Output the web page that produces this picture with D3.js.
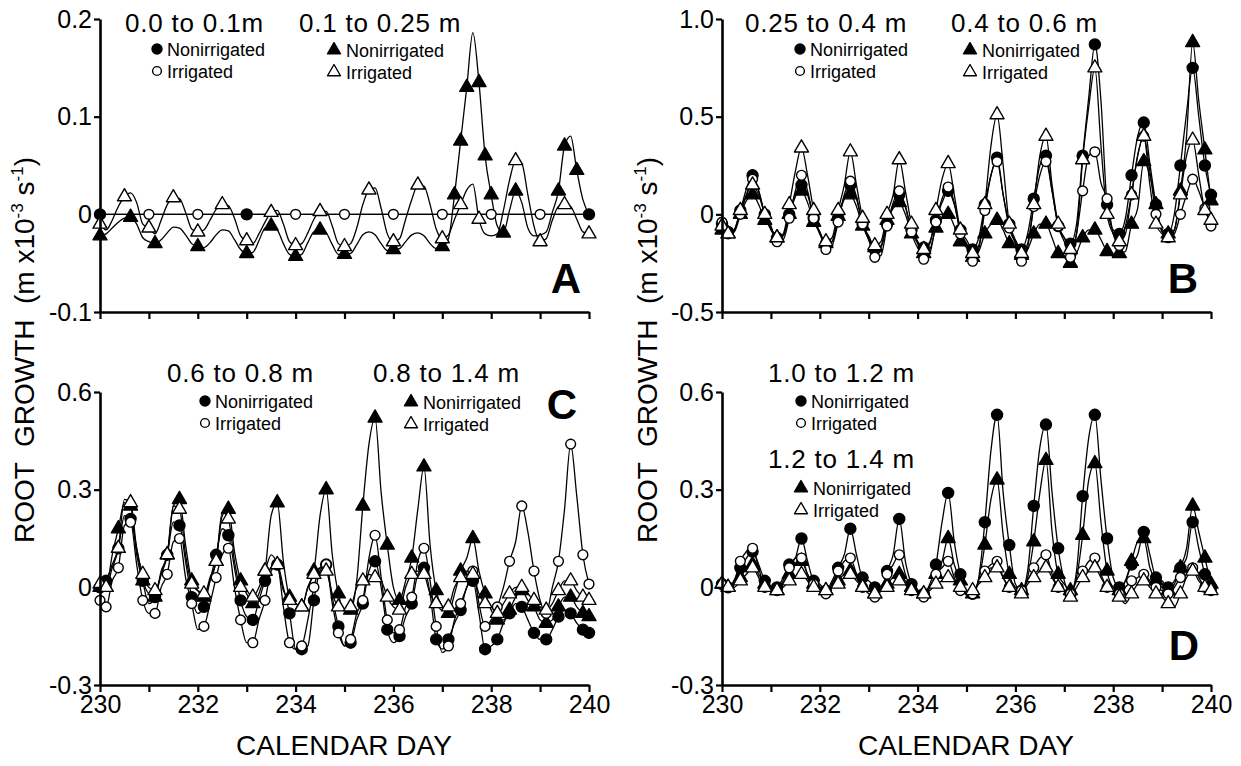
<!DOCTYPE html>
<html>
<head>
<meta charset="utf-8">
<script src="https://cdn.jsdelivr.net/npm/d3@7"></script>
<style>
body { margin: 0; background: #fff; }
svg text { font-family: "Liberation Sans", Arial, Helvetica, sans-serif; fill: #000; }
</style>
</head>
<body>
<svg id="chart" width="1241" height="766"></svg>
<script>
// values every 0.125 day from day 230 to day 240 (81 values)
const days = [230, 240]
const dayTicks = [230, 231, 232, 233, 234, 235, 236, 237, 238, 239, 240]
const dayLabels = [230, 232, 234, 236, 238, 240]

// panel A : 0.0-0.1 m (flat at zero, hourly marks at whole days)
const aCircValues = [0, 0, 0, 0, 0, 0, 0, 0, 0, 0, 0]
const aCircNonDays = [230, 233, 240]
const aCircIrrDays = [231, 232, 234, 235, 236, 237, 238, 239]
// panel A : 0.1-0.25 m
const aTriNon = [
  -0.022, -0.020, -0.014, -0.008, -0.004, -0.003, -0.010, -0.024,
  -0.028, -0.030, -0.026, -0.019, -0.013, -0.014, -0.021, -0.030,
  -0.033, -0.034, -0.029, -0.021, -0.016, -0.017, -0.026, -0.036,
  -0.040, -0.039, -0.027, -0.014, -0.012, -0.016, -0.030, -0.041,
  -0.043, -0.041, -0.029, -0.018, -0.016, -0.019, -0.031, -0.041,
  -0.041, -0.040, -0.031, -0.021, -0.018, -0.021, -0.030, -0.037,
  -0.036, -0.035, -0.028, -0.021, -0.019, -0.022, -0.030, -0.035,
  -0.033, -0.025, 0.020, 0.075, 0.130, 0.186, 0.135, 0.060,
  0.020, -0.012, -0.019, 0.004, 0.024, 0.012, -0.014, -0.022,
  -0.021, -0.018, 0.002, 0.024, 0.070, 0.080, 0.045, 0.015,
  0.000]
const aTriIrr = [
  -0.010, -0.016, -0.006, 0.008, 0.018, 0.022, 0.012, -0.010,
  -0.014, -0.020, -0.006, 0.010, 0.017, 0.016, 0.002, -0.015,
  -0.018, -0.016, -0.006, 0.005, 0.010, 0.009, -0.004, -0.022,
  -0.027, -0.030, -0.020, -0.008, 0.002, 0.004, -0.010, -0.028,
  -0.032, -0.030, -0.019, -0.005, 0.003, 0.003, -0.012, -0.030,
  -0.033, -0.030, -0.014, 0.010, 0.025, 0.027, 0.006, -0.020,
  -0.028, -0.025, -0.005, 0.015, 0.030, 0.029, 0.010, -0.015,
  -0.025, -0.021, -0.005, 0.010, 0.025, 0.031, -0.005, -0.020,
  -0.022, -0.020, 0.004, 0.035, 0.055, 0.052, 0.020, -0.012,
  -0.028, -0.025, -0.006, 0.008, 0.010, 0.008, -0.005, -0.018,
  -0.020]
const aTriNonDays = [230, 230.625, 231.125, 232, 233, 233.5, 234, 234.5, 235, 236, 237,
  237.25, 237.375, 237.5, 237.75, 237.875, 238, 238.25, 238.5, 239.375, 239.5, 239.75]
const aTriIrrDays = [230, 230.5, 231, 231.5, 232, 232.5, 233, 233.5, 234, 234.5, 235,
  235.5, 236, 236.5, 237, 237.375, 237.75, 238.5, 239, 239.5, 240]

// panel B : 0.25-0.4 m and 0.4-0.6 m
const bCircNon = [
  -0.05, -0.09, -0.08, 0.02, 0.13, 0.20, 0.12, 0.00,
  -0.08, -0.12, -0.11, 0.00, 0.09, 0.15, 0.10, -0.02,
  -0.10, -0.15, -0.14, -0.02, 0.08, 0.15, 0.08, -0.05,
  -0.13, -0.18, -0.17, -0.05, 0.04, 0.10, 0.04, -0.08,
  -0.14, -0.17, -0.14, -0.03, 0.06, 0.12, 0.05, -0.08,
  -0.13, -0.18, -0.12, 0.05, 0.20, 0.29, 0.10, -0.05,
  -0.13, -0.18, -0.10, 0.08, 0.25, 0.30, 0.12, -0.06,
  -0.12, -0.15, -0.05, 0.30, 0.60, 0.87, 0.58, 0.05,
  -0.08, -0.10, -0.02, 0.20, 0.40, 0.47, 0.26, 0.05,
  -0.08, -0.10, 0.00, 0.25, 0.52, 0.75, 0.50, 0.25,
  0.10]
const bCircIrr = [
  -0.04, -0.10, -0.09, 0.00, 0.10, 0.18, 0.12, 0.00,
  -0.06, -0.14, -0.13, -0.02, 0.12, 0.20, 0.12, -0.02,
  -0.09, -0.18, -0.16, -0.04, 0.10, 0.17, 0.09, -0.05,
  -0.13, -0.22, -0.21, -0.06, 0.06, 0.12, 0.04, -0.09,
  -0.15, -0.23, -0.20, -0.04, 0.08, 0.14, 0.06, -0.10,
  -0.16, -0.24, -0.18, 0.02, 0.20, 0.27, 0.10, -0.07,
  -0.15, -0.24, -0.17, 0.04, 0.20, 0.27, 0.12, -0.06,
  -0.14, -0.22, -0.10, 0.12, 0.30, 0.32, 0.16, 0.08,
  -0.10, -0.16, -0.06, 0.10, 0.30, 0.40, 0.22, 0.00,
  -0.08, -0.12, -0.10, 0.00, 0.10, 0.18, 0.12, 0.03,
  -0.06]
const bTriNon = [
  -0.08, -0.10, -0.08, 0.00, 0.07, 0.10, 0.05, -0.03,
  -0.07, -0.12, -0.11, 0.00, 0.10, 0.12, 0.06, -0.04,
  -0.09, -0.15, -0.14, -0.01, 0.08, 0.10, 0.04, -0.06,
  -0.11, -0.17, -0.16, -0.03, 0.03, 0.06, 0.00, -0.10,
  -0.17, -0.20, -0.18, -0.07, -0.02, 0.00, -0.06, -0.14,
  -0.17, -0.22, -0.19, -0.10, -0.05, -0.03, -0.08, -0.15,
  -0.17, -0.21, -0.18, -0.10, -0.05, -0.05, -0.12, -0.20,
  -0.22, -0.25, -0.20, -0.12, -0.08, -0.08, -0.13, -0.19,
  -0.21, -0.20, -0.19, -0.05, 0.03, 0.27, 0.20, 0.05,
  -0.09, -0.10, -0.08, 0.12, 0.40, 0.88, 0.58, 0.33,
  0.07]
const bTriIrr = [
  -0.06, -0.10, -0.08, 0.02, 0.10, 0.15, 0.10, 0.00,
  -0.07, -0.12, -0.10, 0.05, 0.22, 0.34, 0.20, 0.02,
  -0.10, -0.14, -0.12, 0.02, 0.15, 0.32, 0.15, -0.02,
  -0.12, -0.16, -0.14, 0.00, 0.10, 0.28, 0.12, -0.05,
  -0.14, -0.18, -0.15, 0.02, 0.18, 0.26, 0.10, -0.08,
  -0.15, -0.20, -0.16, 0.05, 0.35, 0.51, 0.25, -0.05,
  -0.14, -0.20, -0.15, 0.05, 0.30, 0.40, 0.15, -0.05,
  -0.12, -0.18, -0.10, 0.28, 0.55, 0.75, 0.35, 0.00,
  -0.10, -0.14, -0.10, 0.10, 0.30, 0.40, 0.15, -0.05,
  -0.10, -0.12, -0.08, 0.10, 0.30, 0.38, 0.20, 0.02,
  -0.03]

// panel C : 0.6-0.8 m and 0.8-1.4 m
const cCircNon = [
  0.00, 0.02, 0.07, 0.12, 0.22, 0.21, 0.12, 0.02,
  -0.05, -0.03, 0.04, 0.10, 0.20, 0.19, 0.08, -0.03,
  -0.08, -0.06, 0.02, 0.10, 0.18, 0.16, 0.06, -0.04,
  -0.09, -0.10, -0.04, 0.02, 0.06, 0.07, 0.00, -0.08,
  -0.19, -0.19, -0.18, -0.04, 0.05, 0.07, -0.03, -0.12,
  -0.18, -0.17, -0.10, -0.05, 0.05, 0.08, 0.00, -0.13,
  -0.17, -0.15, -0.09, -0.05, 0.04, 0.06, -0.02, -0.16,
  -0.19, -0.16, -0.11, -0.07, 0.00, 0.02, -0.08, -0.19,
  -0.18, -0.16, -0.11, -0.08, -0.05, -0.06, -0.10, -0.14,
  -0.16, -0.16, -0.13, -0.09, -0.07, -0.08, -0.11, -0.13,
  -0.14]
const cCircIrr = [
  -0.04, -0.06, 0.02, 0.06, 0.19, 0.20, 0.07, -0.04,
  -0.08, -0.08, 0.00, 0.04, 0.14, 0.15, 0.03, -0.05,
  -0.13, -0.12, -0.05, 0.03, 0.10, 0.12, 0.00, -0.10,
  -0.17, -0.17, -0.10, -0.04, 0.05, 0.07, -0.06, -0.17,
  -0.19, -0.18, -0.10, 0.00, 0.06, 0.07, -0.05, -0.14,
  -0.18, -0.16, -0.08, -0.04, 0.09, 0.16, 0.03, -0.10,
  -0.14, -0.13, -0.06, -0.03, 0.08, 0.12, 0.02, -0.12,
  -0.20, -0.18, -0.10, -0.05, 0.00, 0.05, -0.05, -0.12,
  -0.10, -0.06, 0.00, 0.08, 0.14, 0.25, 0.17, 0.05,
  -0.04, -0.08, 0.00, 0.08, 0.24, 0.44, 0.28, 0.10,
  0.01]
const cTriNon = [
  0.00, 0.00, 0.10, 0.18, 0.26, 0.25, 0.10, 0.02,
  -0.02, -0.03, 0.05, 0.10, 0.25, 0.27, 0.13, 0.02,
  -0.01, -0.03, 0.03, 0.08, 0.22, 0.24, 0.11, 0.02,
  -0.02, -0.05, -0.02, 0.05, 0.22, 0.26, 0.08, -0.03,
  -0.05, -0.06, 0.00, 0.05, 0.22, 0.30, 0.10, -0.02,
  -0.07, -0.07, 0.02, 0.25, 0.44, 0.52, 0.29, 0.13,
  0.00, -0.04, 0.02, 0.09, 0.24, 0.37, 0.13, -0.01,
  -0.06, -0.08, -0.02, 0.05, 0.09, 0.15, 0.05, -0.02,
  -0.07, -0.10, -0.10, -0.07, -0.03, -0.01, -0.04, -0.06,
  -0.10, -0.11, -0.10, -0.06, -0.03, -0.03, -0.06, -0.08,
  -0.09]
const cTriIrr = [
  0.01, 0.00, 0.06, 0.12, 0.27, 0.26, 0.12, 0.04,
  0.00, -0.01, 0.04, 0.10, 0.25, 0.24, 0.10, 0.01,
  -0.01, -0.02, 0.02, 0.08, 0.23, 0.21, 0.08, 0.00,
  -0.01, -0.03, 0.00, 0.05, 0.10, 0.07, -0.01, -0.04,
  -0.05, -0.06, 0.00, 0.04, 0.06, 0.05, -0.02, -0.06,
  -0.07, -0.06, 0.00, 0.02, 0.04, 0.03, 0.02, -0.03,
  -0.06, -0.07, 0.00, 0.04, 0.05, 0.04, -0.02, -0.05,
  -0.07, -0.06, 0.00, 0.03, 0.05, 0.04, -0.02, -0.05,
  -0.06, -0.08, -0.05, -0.02, 0.00, 0.00, -0.02, -0.04,
  -0.06, -0.07, -0.05, -0.01, 0.02, 0.02, -0.01, -0.03,
  -0.04]

// panel D : 1.0-1.2 m and 1.2-1.4 m
const dCircNon = [
  0.01, 0.00, 0.02, 0.06, 0.09, 0.11, 0.07, 0.02,
  0.00, 0.00, 0.03, 0.07, 0.09, 0.15, 0.08, 0.02,
  0.01, -0.01, 0.02, 0.06, 0.10, 0.18, 0.10, 0.03,
  0.02, 0.00, -0.01, 0.05, 0.10, 0.21, 0.08, 0.01,
  -0.02, -0.02, 0.01, 0.07, 0.20, 0.29, 0.14, 0.04,
  -0.01, -0.02, 0.03, 0.20, 0.42, 0.53, 0.29, 0.13,
  0.01, -0.01, 0.05, 0.25, 0.43, 0.50, 0.29, 0.12,
  0.02, -0.02, 0.05, 0.28, 0.46, 0.53, 0.33, 0.15,
  0.03, 0.00, 0.02, 0.07, 0.10, 0.17, 0.10, 0.03,
  0.02, 0.00, 0.02, 0.06, 0.09, 0.20, 0.12, 0.04,
  0.00]
const dCircIrr = [
  0.01, 0.00, 0.02, 0.08, 0.11, 0.12, 0.06, 0.00,
  0.00, -0.01, 0.02, 0.06, 0.09, 0.09, 0.04, 0.01,
  -0.01, -0.02, 0.01, 0.05, 0.08, 0.09, 0.04, 0.00,
  -0.02, -0.03, -0.01, 0.04, 0.07, 0.10, 0.04, -0.01,
  -0.02, -0.03, 0.00, 0.04, 0.06, 0.08, 0.03, -0.01,
  -0.02, -0.02, 0.02, 0.05, 0.07, 0.08, 0.03, 0.00,
  0.00, -0.01, 0.02, 0.06, 0.09, 0.10, 0.04, 0.00,
  -0.01, -0.02, 0.02, 0.05, 0.08, 0.09, 0.04, 0.00,
  -0.01, -0.02, 0.00, 0.02, 0.03, 0.04, 0.02, 0.00,
  -0.01, -0.02, 0.00, 0.03, 0.05, 0.06, 0.03, 0.00,
  -0.01]
const dTriNon = [
  0.01, 0.00, 0.01, 0.03, 0.06, 0.07, 0.04, 0.01,
  -0.01, -0.01, 0.01, 0.04, 0.07, 0.08, 0.04, 0.01,
  -0.01, -0.01, 0.00, 0.02, 0.04, 0.05, 0.03, 0.00,
  -0.01, -0.02, -0.01, 0.01, 0.03, 0.04, 0.02, 0.00,
  -0.01, -0.02, 0.00, 0.04, 0.08, 0.15, 0.07, 0.02,
  -0.02, -0.02, 0.02, 0.13, 0.27, 0.33, 0.16, 0.04,
  0.00, -0.01, 0.03, 0.14, 0.29, 0.39, 0.17, 0.04,
  0.01, -0.01, 0.03, 0.16, 0.33, 0.38, 0.20, 0.05,
  0.00, -0.01, 0.02, 0.08, 0.14, 0.15, 0.06, 0.02,
  0.00, -0.01, 0.01, 0.06, 0.12, 0.25, 0.17, 0.09,
  0.01]
const dTriIrr = [
  0.01, 0.00, 0.00, 0.02, 0.04, 0.06, 0.03, 0.00,
  -0.01, -0.01, 0.00, 0.02, 0.03, 0.04, 0.02, 0.00,
  -0.01, -0.01, 0.00, 0.01, 0.03, 0.04, 0.02, 0.00,
  -0.01, -0.02, -0.01, 0.00, 0.01, 0.02, 0.01, -0.01,
  -0.02, -0.02, -0.01, 0.01, 0.02, 0.03, 0.02, 0.00,
  -0.01, -0.01, 0.01, 0.03, 0.06, 0.06, 0.03, 0.00,
  -0.01, -0.02, 0.01, 0.03, 0.05, 0.06, 0.03, 0.00,
  -0.01, -0.03, 0.00, 0.03, 0.05, 0.06, 0.03, 0.00,
  -0.01, -0.03, -0.05, -0.02, 0.01, 0.02, 0.00, -0.02,
  -0.03, -0.05, -0.06, -0.02, 0.03, 0.05, 0.02, 0.00,
  -0.01]

const svg = d3.select("#chart")
const font = '"Liberation Sans", Arial, Helvetica, sans-serif'
const plotW = 489, plotH = 293
const dayOf = (s, i) => days[0] + i * s.step
const quarterMarks = v => v.map((_, i) => i).filter(i => i % 2 === 1 || i === 0 || i === v.length - 1)
const marksFor = (step, list) => list.map(d => Math.round((d - days[0]) / step))
const tickFmt = d => d === 0 ? "0" : d3.format(".1f")(d).replace("\u2212", "-")

function drawMarker(g, cx, cy, kind, filled, r, side) {
  if (kind === "circle") {
    g.append("circle")
      .attr("cx", cx).attr("cy", cy).attr("r", filled ? r : r - 0.6)
      .attr("fill", filled ? "#000" : "#fff")
      .attr("stroke", "#000").attr("stroke-width", 1.4)
  } else {
    g.append("path")
      .attr("d", d3.symbol(d3.symbolTriangle, side * side * Math.sqrt(3) / 4)())
      .attr("transform", `translate(${cx},${cy})`)
      .attr("fill", filled ? "#000" : "#fff")
      .attr("stroke", "#000").attr("stroke-width", 1.4)
      .attr("stroke-linejoin", "round")
  }
}

const panels = [
  {
    left: 100, top: 19, yDomain: [-0.1, 0.2], yTicks: [-0.1, 0, 0.1, 0.2], dayLabels: false,
    letter: "A", letterX: 566, letterY: 293,
    series: [
      { values: aCircValues, step: 1, marks: marksFor(1, aCircNonDays), kind: "circle", filled: true },
      { values: aCircValues, step: 1, marks: marksFor(1, aCircIrrDays), kind: "circle", filled: false },
      { values: aTriNon, step: 0.125, marks: marksFor(0.125, aTriNonDays), kind: "triangle", filled: true },
      { values: aTriIrr, step: 0.125, marks: marksFor(0.125, aTriIrrDays), kind: "triangle", filled: false }
    ],
    titles: [["0.0 to 0.1m", 125, 32], ["0.1 to 0.25 m", 299, 32]],
    legend: [
      ["circle", true, 157, 49, "Nonirrigated"], ["circle", false, 157, 71, "Irrigated"],
      ["triangle", true, 334, 50, "Nonirrigated"], ["triangle", false, 334, 72, "Irrigated"]
    ]
  },
  {
    left: 722, top: 19, yDomain: [-0.5, 1.0], yTicks: [-0.5, 0, 0.5, 1.0], dayLabels: false,
    letter: "B", letterX: 1183, letterY: 293,
    series: [
      { values: bCircNon, kind: "circle", filled: true },
      { values: bTriNon, kind: "triangle", filled: true },
      { values: bCircIrr, kind: "circle", filled: false },
      { values: bTriIrr, kind: "triangle", filled: false }
    ],
    titles: [["0.25 to 0.4 m", 745, 32], ["0.4 to 0.6 m", 951, 32]],
    legend: [
      ["circle", true, 800, 49, "Nonirrigated"], ["circle", false, 800, 71, "Irrigated"],
      ["triangle", true, 970, 50, "Nonirrigated"], ["triangle", false, 970, 72, "Irrigated"]
    ]
  },
  {
    left: 100, top: 392, yDomain: [-0.3, 0.6], yTicks: [-0.3, 0, 0.3, 0.6], dayLabels: true,
    letter: "C", letterX: 562, letterY: 419,
    series: [
      { values: cCircNon, kind: "circle", filled: true },
      { values: cTriNon, kind: "triangle", filled: true },
      { values: cCircIrr, kind: "circle", filled: false },
      { values: cTriIrr, kind: "triangle", filled: false }
    ],
    titles: [["0.6 to 0.8 m", 167, 382], ["0.8 to 1.4 m", 373, 382]],
    legend: [
      ["circle", true, 205, 401, "Nonirrigated"], ["circle", false, 205, 423, "Irrigated"],
      ["triangle", true, 411, 402, "Nonirrigated"], ["triangle", false, 411, 424, "Irrigated"]
    ]
  },
  {
    left: 722, top: 392, yDomain: [-0.3, 0.6], yTicks: [-0.3, 0, 0.3, 0.6], dayLabels: true,
    letter: "D", letterX: 1184, letterY: 660,
    series: [
      { values: dCircNon, kind: "circle", filled: true },
      { values: dTriNon, kind: "triangle", filled: true },
      { values: dCircIrr, kind: "circle", filled: false },
      { values: dTriIrr, kind: "triangle", filled: false }
    ],
    titles: [["1.0 to 1.2 m", 768, 382], ["1.2 to 1.4 m", 768, 468]],
    legend: [
      ["circle", true, 801, 401, "Nonirrigated"], ["circle", false, 801, 423, "Irrigated"],
      ["triangle", true, 801, 488, "Nonirrigated"], ["triangle", false, 801, 510, "Irrigated"]
    ]
  }
]

panels.forEach(p => {
  const x = d3.scaleLinear().domain(days).range([p.left, p.left + plotW])
  const y = d3.scaleLinear().domain(p.yDomain).range([p.top + plotH, p.top])
  const g = svg.append("g")

  const line = d3.line()
    .x(d => x(d[0]))
    .y(d => y(d[1]))
    .curve(d3.curveMonotoneX)

  p.series.forEach(s => {
    if (!s.step) s.step = 0.125
    if (!s.marks) s.marks = quarterMarks(s.values)
    g.append("path")
      .attr("d", line(s.values.map((v, i) => [dayOf(s, i), v])))
      .attr("fill", "none")
      .attr("stroke", "#000")
      .attr("stroke-width", 1.3)
  })

  p.series.forEach(s => {
    s.marks.forEach(i => {
      drawMarker(g, x(dayOf(s, i)), y(s.values[i]), s.kind, s.filled, 5.5, 14)
    })
  })

  // axes
  const ax = g.append("g")
    .attr("transform", `translate(0,${p.top + plotH})`)
    .call(d3.axisBottom(x).tickValues(dayTicks).tickSize(7).tickSizeOuter(0).tickPadding(3)
      .tickFormat(d => p.dayLabels && dayLabels.includes(d) ? d : ""))
  const ay = g.append("g")
    .attr("transform", `translate(${p.left},0)`)
    .call(d3.axisLeft(y).tickValues(p.yTicks).tickSize(6).tickSizeOuter(0).tickPadding(2)
      .tickFormat(tickFmt))
  ;[ax, ay].forEach(a => {
    a.attr("font-family", font).attr("font-size", 25)
    a.select(".domain").attr("stroke-width", 2.6)
    a.selectAll(".tick line").attr("stroke-width", 2.2)
  })

  // depth titles
  p.titles.forEach(t => {
    svg.append("text").attr("x", t[1]).attr("y", t[2])
      .attr("font-size", 26).attr("letter-spacing", 0.8).text(t[0])
  })
  // legend
  p.legend.forEach(l => {
    drawMarker(svg, l[2], l[3], l[0], l[1], 5, 13)
    svg.append("text").attr("x", l[2] + (l[0] === "circle" ? 10 : 12)).attr("y", l[3] + 6.5)
      .attr("font-size", 18).text(l[4])
  })
  // panel letter
  svg.append("text").attr("x", p.letterX).attr("y", p.letterY)
    .attr("text-anchor", "middle").attr("font-size", 42).attr("font-weight", "bold")
    .text(p.letter)
})

// shared axis titles
;[24, 647].forEach(cx => {
  const t = svg.append("text")
    .attr("transform", `translate(${cx + 10},350) rotate(-90)`)
    .attr("text-anchor", "middle")
    .attr("font-size", 28)
    .style("white-space", "pre")
  t.append("tspan").text("ROOT  GROWTH  (m x10")
  t.append("tspan").attr("font-size", 17).attr("dy", -11).text("-3")
  t.append("tspan").attr("dy", 11).text(" s")
  t.append("tspan").attr("font-size", 17).attr("dy", -11).text("-1")
  t.append("tspan").attr("dy", 11).text(")")
})
;[344, 966].forEach(cx => {
  svg.append("text").attr("x", cx).attr("y", 755)
    .attr("text-anchor", "middle").attr("font-size", 28).text("CALENDAR DAY")
})
</script>
</body>
</html>
